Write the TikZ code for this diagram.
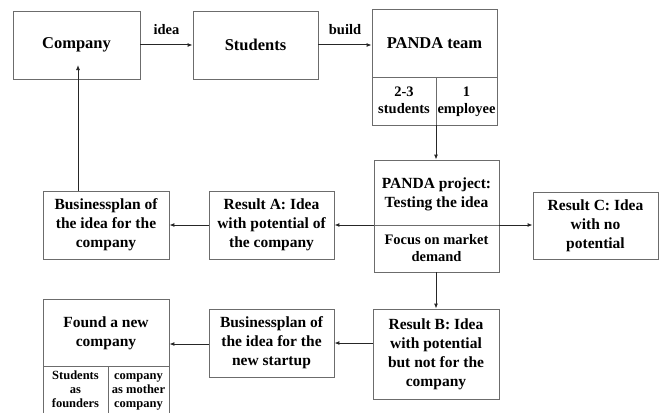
\documentclass[tikz,border=0pt]{standalone}
\usepackage{fontspec}
\setmainfont{Liberation Serif}
\usetikzlibrary{arrows.meta}
\begin{document}
\begin{tikzpicture}[x=1pt,y=-1pt,
  box/.style={draw=gray!85!black, line width=0.8pt, rectangle, inner sep=0pt},
  txt/.style={align=center, font=\fontsize{15.5}{19}\selectfont\bfseries, inner sep=0pt},
  big/.style={align=center, font=\fontsize{16.5}{19}\selectfont\bfseries, inner sep=0pt},
  small/.style={align=center, font=\fontsize{14.5}{16.8}\selectfont\bfseries, inner sep=0pt},
  tiny/.style={align=center, font=\fontsize{12.5}{14}\selectfont\bfseries, inner sep=0pt},
  lbl/.style={font=\fontsize{14.5}{16}\selectfont\bfseries, inner sep=0pt},
  arr/.style={draw=black!85, line width=1pt, -{Latex[length=5pt,width=4pt]}},
  div/.style={draw=gray!85!black, line width=0.8pt}]
\clip (0,0) rectangle (660,412);
\fill[white] (0,0) rectangle (660,412);

% boxes
\node[box, minimum width=127, minimum height=68] (company) at (76.5,45) {};
\node[big] at (company.center) {Company};
\node[box, minimum width=125, minimum height=68] (students) at (255.5,45) {};
\node[big] at (students.center) {Students};

\node[box, minimum width=125, minimum height=116] (team) at (434.5,67) {};
\node[big] (teamt) at (434.5,43) {PANDA team};
\draw[div] (372,77) -- (497,77);
\draw[div] (436,77) -- (436,125);
\node[small] (teaml) at (404,101.5) {\strut 2-3\strut\\\strut students\strut};
\node[small] (teamr) at (466.5,101.5) {\strut 1\strut\\\strut employee\strut};

\node[box, minimum width=125, minimum height=112] (project) at (436.5,216) {};
\node[txt] (projt) at (436.5,194) {PANDA project:\\Testing the idea};
\draw[div] (374,225) -- (499,225);
\node[small] (projb) at (436.5,248) {Focus on market\\demand};

\node[box, minimum width=125, minimum height=67] (resc) at (595.5,225.5) {};
\node[txt] at (resc.center) {Result C: Idea\\with no\\potential};

\node[box, minimum width=125, minimum height=68] (resa) at (271.5,225) {};
\node[txt] at (resa.center) {Result A: Idea\\with potential of\\the company};

\node[box, minimum width=126, minimum height=68] (bpa) at (106,225) {};
\node[txt] at (bpa.center) {Businessplan of\\the idea for the\\company};

\node[box, minimum width=126, minimum height=90] (resb) at (436,354) {};
\node[txt] at (resb.center) {Result B: Idea\\with potential\\but not for the\\company};

\node[box, minimum width=125, minimum height=68] (bpn) at (271.5,343) {};
\node[txt] at (bpn.center) {Businessplan of\\the idea for the\\new startup};

\node[box, minimum width=126, minimum height=124] (found) at (106,361) {};
\node[txt] (foundt) at (106,333.5) {Found a new\\company};
\draw[div] (43,366) -- (169,366);
\draw[div] (108,366) -- (108,423);
\node[tiny] (foundl) at (75.5,391) {\strut Students\strut\\\strut as\strut\\\strut founders\strut};
\node[tiny] (foundr) at (138.5,391) {\strut company\strut\\\strut as mother\strut\\\strut company\strut};

% connectors
\draw[arr] (company.east) -- node[lbl, above=10pt] {idea} (students.west);
\draw[arr] (students.east) -- node[lbl, above=10pt] {build} (team.west |- students.east);
\draw[arr] (team.south -| 436,0) -- (project.north -| 436,0);
\draw[arr] (project.west |- 0,225) -- (resa.east |- 0,225);
\draw[arr] (project.east |- 0,225) -- (resc.west |- 0,225);
\draw[arr] (resa.west) -- (bpa.east);
\coordinate (cin) at (78,65);
\draw[arr] (bpa.north -| cin) -- (cin);
\draw[arr] (project.south -| 436,0) -- (resb.north -| 436,0);
\draw[arr] (resb.west |- 0,343) -- (bpn.east |- 0,343);
\draw[arr] (bpn.west |- 0,344) -- (found.east |- 0,344);
\end{tikzpicture}
\end{document}
